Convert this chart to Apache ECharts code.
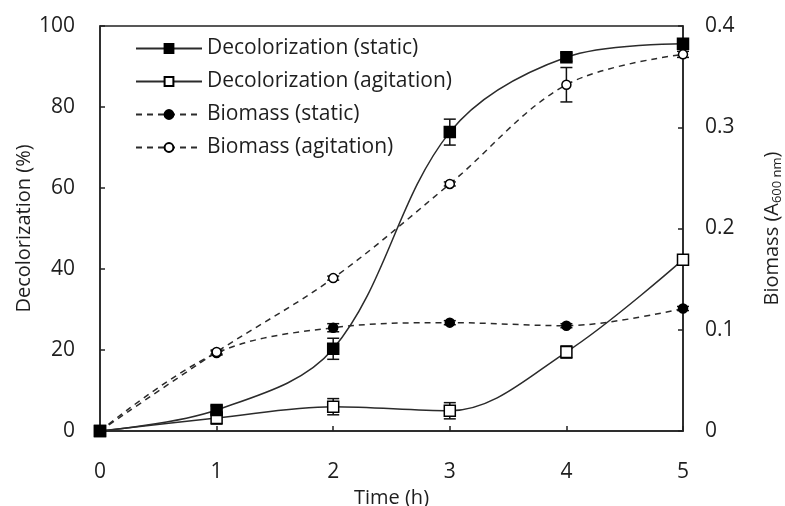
<!DOCTYPE html>
<html>
<head>
<meta charset="utf-8">
<script src="https://cdn.jsdelivr.net/npm/echarts@6/dist/echarts.min.js"></script>
<style>
  html, body { margin: 0; padding: 0; background: #fff; }
  #chart { width: 785px; height: 506px; }
</style>
</head>
<body>
<div id="chart"></div>
<script>
const time = [0, 1, 2, 3, 4, 5]
const decolStatic = [0, 5.2, 20.3, 73.8, 92.3, 95.6]
const decolAgitation = [0, 3.2, 6.0, 5.0, 19.5, 42.3]
const biomassStatic = [0, 0.077, 0.102, 0.107, 0.104, 0.121]
const biomassAgitation = [0, 0.078, 0.151, 0.244, 0.342, 0.372]

const decolStaticErr = [0, 1.0, 2.6, 3.2, 1.0, 1.0]
const decolAgitationErr = [0, 1.5, 2.0, 2.0, 1.5, 1.0]
const biomassStaticErr = [0, 0.002, 0.004, 0.002, 0.002, 0.002]
const biomassAgitationErr = [0, 0.002, 0.002, 0.002, 0.017, 0.003]

const FONT = 'Open Sans'
const TEXT = '#1e1e1e'
const LINE = '#2b2b2b'

const pairs = vals => time.map((t, i) => [t, vals[i]])
const errData = (vals, errs) => time.map((t, i) => [t, vals[i] - errs[i], vals[i] + errs[i]])

const errorBars = (data, yAxisIndex) => ({
  type: 'custom',
  yAxisIndex,
  silent: true,
  z: 1,
  data,
  renderItem (params, api) {
    const lo = api.coord([api.value(0), api.value(1)])
    const hi = api.coord([api.value(0), api.value(2)])
    const w = 6
    const style = { stroke: '#111', lineWidth: 1.5 }
    return {
      type: 'group',
      children: [
        { type: 'line', shape: { x1: lo[0], y1: lo[1], x2: hi[0], y2: hi[1] }, style },
        { type: 'line', shape: { x1: lo[0] - w, y1: lo[1], x2: lo[0] + w, y2: lo[1] }, style },
        { type: 'line', shape: { x1: hi[0] - w, y1: hi[1], x2: hi[0] + w, y2: hi[1] }, style }
      ]
    }
  }
})

const lineSeries = (name, vals, yAxisIndex, symbol, filled, dashed, size) => ({
  name,
  type: 'line',
  yAxisIndex,
  data: pairs(vals),
  smooth: 0.35,
  symbol,
  symbolSize: size,
  z: 3,
  lineStyle: { color: LINE, width: 1.5, type: dashed ? [6, 5] : 'solid' },
  itemStyle: {
    color: filled ? '#000' : '#fff',
    borderColor: '#000',
    borderWidth: 1.5,
    opacity: 1
  }
})

const chart = echarts.init(document.getElementById('chart'))
chart.setOption({
  animation: false,
  textStyle: { fontFamily: FONT, color: TEXT },
  grid: {
    left: 100, right: 102, top: 26, bottom: 75,
    outerBoundsMode: 'none',
    show: true, borderColor: '#222', borderWidth: 1.5, backgroundColor: 'transparent'
  },
  legend: {
    orient: 'vertical',
    left: 130,
    top: 33,
    itemGap: 12,
    itemWidth: 66,
    itemHeight: 11,
    textStyle: { fontFamily: FONT, fontSize: 21, color: TEXT },
    data: ['Decolorization (static)', 'Decolorization (agitation)', 'Biomass (static)', 'Biomass (agitation)']
  },
  xAxis: {
    type: 'value',
    min: 0, max: 5, interval: 1,
    name: 'Time (h)',
    nameLocation: 'middle',
    nameGap: 53,
    nameTextStyle: { fontFamily: FONT, fontSize: 20, color: TEXT },
    axisLine: { onZero: false, lineStyle: { color: '#222', width: 1.5 } },
    axisTick: { inside: true, length: 5, lineStyle: { color: '#222', width: 1.5 } },
    axisLabel: { margin: 31, fontFamily: FONT, fontSize: 21, color: TEXT },
    splitLine: { show: false }
  },
  yAxis: [
    {
      type: 'value',
      min: 0, max: 100, interval: 20,
      name: 'Decolorization (%)',
      nameLocation: 'middle',
      nameRotate: 90,
      nameGap: 66,
      nameMoveOverlap: false,
      nameTextStyle: { fontFamily: FONT, fontSize: 20, color: TEXT },
      axisLine: { show: true, lineStyle: { color: '#222', width: 1.5 } },
      axisTick: { show: true, inside: true, length: 5, lineStyle: { color: '#222', width: 1.5 } },
      axisLabel: { margin: 25, fontFamily: FONT, fontSize: 21, color: TEXT },
      splitLine: { show: false }
    },
    {
      type: 'value',
      min: 0, max: 0.4, interval: 0.1,
      name: 'Biomass (A{sub|600 nm})',
      nameLocation: 'middle',
      nameRotate: 90,
      nameGap: 78,
      nameTextStyle: {
        fontFamily: FONT, fontSize: 20, color: TEXT,
        rich: { sub: { fontFamily: FONT, fontSize: 13, color: TEXT, padding: [10, 0, 0, 0] } }
      },
      axisLine: { show: true, lineStyle: { color: '#222', width: 1.5 } },
      axisTick: { show: true, inside: true, length: 5, lineStyle: { color: '#222', width: 1.5 } },
      axisLabel: { margin: 22, fontFamily: FONT, fontSize: 21, color: TEXT },
      splitLine: { show: false }
    }
  ],
  series: [
    errorBars(errData(decolStatic, decolStaticErr), 0),
    errorBars(errData(decolAgitation, decolAgitationErr), 0),
    errorBars(errData(biomassStatic, biomassStaticErr), 1),
    errorBars(errData(biomassAgitation, biomassAgitationErr), 1),
    lineSeries('Biomass (static)', biomassStatic, 1, 'circle', true, true, 9),
    lineSeries('Biomass (agitation)', biomassAgitation, 1, 'circle', false, true, 9),
    lineSeries('Decolorization (agitation)', decolAgitation, 0, 'rect', false, false, 11),
    lineSeries('Decolorization (static)', decolStatic, 0, 'rect', true, false, 11)
  ]
})
</script>
</body>
</html>
